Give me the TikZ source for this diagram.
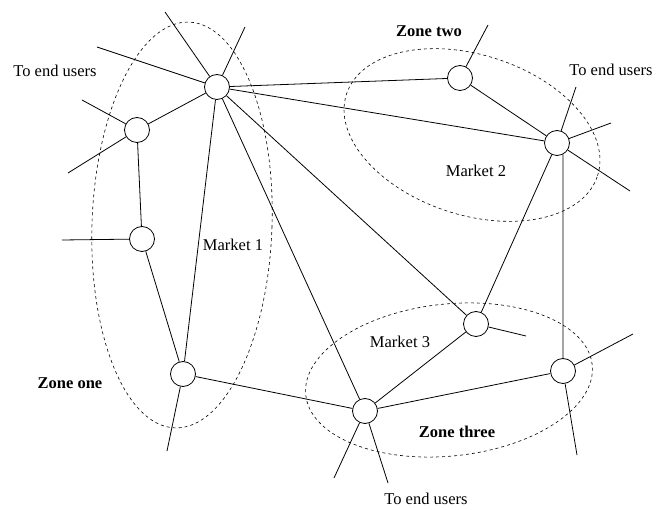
\documentclass[tikz,border=0pt]{standalone}
\usepackage{fontspec}
\setmainfont{Liberation Serif}
\begin{document}
\begin{tikzpicture}[x=1pt,y=-1pt,
  hub/.style={circle,draw,line width=0.8pt,minimum size=25pt,inner sep=0pt,fill=white},
  link/.style={line width=0.8pt},
  zone/.style={dashed,dash pattern=on 3pt off 3pt,line width=0.6pt},
  lbl/.style={font=\fontsize{16.5}{18}\selectfont,inner sep=0pt},
  blbl/.style={font=\fontsize{16.5}{18}\selectfont\bfseries,inner sep=0pt}]
\useasboundingbox (0,0) rectangle (656,510);
% zones
\draw[zone,rotate around={-2:(182,225)}] (182,225) ellipse [x radius=90pt, y radius=203pt];
\draw[zone,rotate around={-18:(472,135)}] (472,135) ellipse [x radius=132pt, y radius=80pt];
\draw[zone,rotate around={6:(449,380)}] (449,380) ellipse [x radius=144pt, y radius=76pt];
% nodes
\node[hub] (A) at (217,87) {};
\node[hub] (B) at (137,130) {};
\node[hub] (C) at (142,239) {};
\node[hub] (D) at (183,374) {};
\node[hub] (E) at (460,78) {};
\node[hub] (F) at (557,143) {};
\node[hub] (G) at (476,324) {};
\node[hub] (H) at (365,411) {};
\node[hub] (I) at (563,371) {};
% free ends
\coordinate (a1) at (165,12);
\coordinate (a2) at (245,27);
\coordinate (a3) at (97,47);
\coordinate (b1) at (82,100);
\coordinate (b2) at (68,173);
\coordinate (c1) at (62,240);
\coordinate (d1) at (167,451);
\coordinate (e1) at (488,25);
\coordinate (f1) at (576,87);
\coordinate (f2) at (611,123);
\coordinate (f3) at (630,191);
\coordinate (g1) at (526,336);
\coordinate (i1) at (633,334);
\coordinate (i2) at (577,455);
\coordinate (h1) at (334,478);
\coordinate (h2) at (388,483);
% links
\draw[link] (A) -- (B);
\draw[link] (B) -- (C);
\draw[link] (C) -- (D);
\draw[link] (A) -- (D);
\draw[link] (A) -- (E);
\draw[link] (A) -- (F);
\draw[link] (A) -- (G);
\draw[link] (A) -- (H);
\draw[link] (E) -- (F);
\draw[link] (F) -- (G);
\draw[link] (F.-62) -- (I.north);
\draw[link] (G) -- (H);
\draw[link] (D) -- (H);
\draw[link] (H) -- (I);
\draw[link] (A) -- (a1);
\draw[link] (A) -- (a2);
\draw[link] (A) -- (a3);
\draw[link] (B) -- (b1);
\draw[link] (B) -- (b2);
\draw[link] (C) -- (c1);
\draw[link] (D) -- (d1);
\draw[link] (E) -- (e1);
\draw[link] (F) -- (f1);
\draw[link] (F) -- (f2);
\draw[link] (F) -- (f3);
\draw[link] (G) -- (g1);
\draw[link] (I) -- (i1);
\draw[link] (I) -- (i2);
\draw[link] (H) -- (h1);
\draw[link] (H) -- (h2);
% labels
\node[lbl] (t1) at (55,71) {To end users};
\node[lbl] (t2) at (611,70) {To end users};
\node[lbl] (t3) at (426,499) {To end users};
\node[lbl] (m1) at (233,245) {Market 1};
\node[lbl] (m2) at (476,171) {Market 2};
\node[lbl] (m3) at (400,342) {Market 3};
\node[blbl] (z1) at (70,383) {Zone one};
\node[blbl] (z2) at (429,31) {Zone two};
\node[blbl] (z3) at (457,432) {Zone three};
\end{tikzpicture}
\end{document}
